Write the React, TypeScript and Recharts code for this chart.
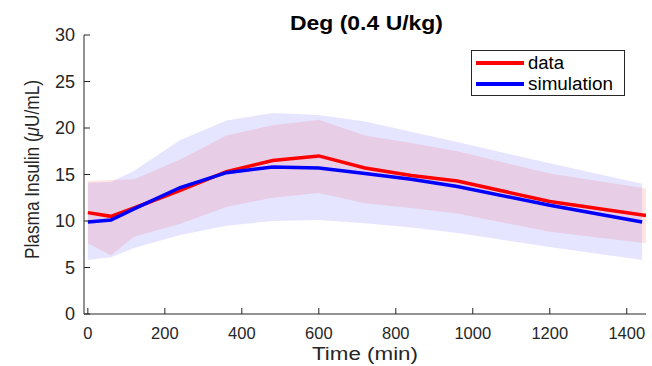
import React from 'react';
import { ComposedChart, Line, Area, XAxis, YAxis, Legend } from 'recharts';

// Time points (min)
const simTime = [0, 60, 120, 240, 360, 480, 600, 720, 840, 960, 1200, 1440];
const dataTime = [0, 60, 120, 240, 360, 480, 600, 720, 840, 960, 1200, 1450];

// Measured data (red)
const dataMean = [10.9, 10.5, 11.4, 13.3, 15.3, 16.5, 17.0, 15.7, 14.9, 14.3, 12.1, 10.6];
const dataUpper = [14.3, 14.4, 14.5, 16.6, 19.2, 20.3, 20.9, 19.2, 18.4, 17.5, 15.1, 13.5];
const dataLower = [7.6, 6.3, 8.3, 9.7, 11.5, 12.5, 13.0, 11.9, 11.4, 10.8, 8.85, 7.6];

// Simulation (blue)
const simMean = [9.9, 10.1, 11.3, 13.6, 15.2, 15.8, 15.7, 15.1, 14.5, 13.7, 11.7, 9.9];
const simUpper = [14.1, 14.2, 15.4, 18.7, 20.8, 21.6, 21.4, 20.7, 19.6, 18.5, 16.2, 14.0];
const simLower = [5.8, 6.1, 7.1, 8.5, 9.5, 10.0, 10.1, 9.75, 9.3, 8.7, 7.2, 5.8];

const xTicks = [0, 200, 400, 600, 800, 1000, 1200, 1400];
const yTicks = [0, 5, 10, 15, 20, 25, 30];

const legendItems = [
  { color: '#ff0000', label: 'data' },
  { color: '#0000ff', label: 'simulation' },
];

type Row = { t: number; dm?: number; dr?: [number, number]; sm?: number; sr?: [number, number] };

const rowMap = new Map<number, Row>();
simTime.forEach((t, i) => {
  const r = rowMap.get(t) || { t };
  r.sm = simMean[i];
  r.sr = [simLower[i], simUpper[i]];
  rowMap.set(t, r);
});
dataTime.forEach((t, i) => {
  const r = rowMap.get(t) || { t };
  r.dm = dataMean[i];
  r.dr = [dataLower[i], dataUpper[i]];
  rowMap.set(t, r);
});
const rows: Row[] = Array.from(rowMap.values()).sort((a, b) => a.t - b.t);

const FONT = '"Liberation Sans", Arial, Helvetica, sans-serif';
const AX = '#262626';

const LegendBox = () => (
  <svg width={154} height={46} style={{ display: 'block' }}>
    <rect x={0.5} y={0.5} width={153} height={45} fill="#fff" stroke={AX} strokeWidth={1} />
    {legendItems.map((e, i) => (
      <g key={e.label}>
        <line x1={5} x2={53} y1={13 + i * 21} y2={13 + i * 21} stroke={e.color} strokeWidth={4} />
        <text
          x={57}
          y={19 + i * 21}
          fontFamily={FONT}
          fontSize={18}
          fill="#000"
          textLength={e.label === 'data' ? 36 : 85}
          lengthAdjust="spacingAndGlyphs"
        >
          {e.label}
        </text>
      </g>
    ))}
  </svg>
);

export default function App() {
  return (
    <div style={{ position: 'absolute', left: 0, top: 0, width: 652, height: 366, background: '#fff' }}>
      <ComposedChart
        width={652}
        height={366}
        data={rows}
        margin={{ top: 35, right: 6, left: 0, bottom: 0 }}
        style={{ fontFamily: FONT }}
      >
        <XAxis
          dataKey="t"
          type="number"
          domain={[-10, 1450]}
          ticks={xTicks}
          height={52}
          axisLine={{ stroke: AX }}
          tickLine={{ stroke: AX }}
          tickSize={-6}
          tickMargin={19}
          tick={{ fill: AX, fontSize: 16.5, fontFamily: FONT }}
          allowDataOverflow
        />
        <YAxis
          type="number"
          domain={[0, 30]}
          ticks={yTicks}
          width={84}
          axisLine={{ stroke: AX }}
          tickLine={{ stroke: AX }}
          tickSize={-6}
          tickMargin={15}
          tick={{ fill: AX, fontSize: 18, fontFamily: FONT }}
        />
        <Legend
          layout="horizontal"
          verticalAlign="middle"
          align="center"
          content={() => <LegendBox />}
          wrapperStyle={{ position: 'absolute', left: 471, top: 50, width: 154, height: 46 }}
        />
        <Area
          dataKey="sr"
          stroke="none"
          fill="#0000ff"
          fillOpacity={0.1}
          connectNulls
          isAnimationActive={false}
          legendType="none"
          activeDot={false}
        />
        <Area
          dataKey="dr"
          stroke="none"
          fill="#ff0000"
          fillOpacity={0.1}
          connectNulls
          isAnimationActive={false}
          legendType="none"
          activeDot={false}
        />
        <Line
          dataKey="dm"
          stroke="#ff0000"
          strokeWidth={3.5}
          dot={false}
          connectNulls
          isAnimationActive={false}
          strokeLinejoin="miter"
        />
        <Line
          dataKey="sm"
          stroke="#0000ff"
          strokeWidth={3.5}
          dot={false}
          connectNulls
          isAnimationActive={false}
          strokeLinejoin="miter"
        />
      </ComposedChart>
      <svg
        width={652}
        height={366}
        style={{ position: 'absolute', left: 0, top: 0, pointerEvents: 'none' }}
      >
        <text
          x={366.5}
          y={30}
          textAnchor="middle"
          fontFamily={FONT}
          fontWeight="bold"
          fontSize={19.5}
          fill="#000"
          textLength={153}
          lengthAdjust="spacingAndGlyphs"
        >
          Deg (0.4 U/kg)
        </text>
        <text
          x={365}
          y={359.5}
          textAnchor="middle"
          fontFamily={FONT}
          fontSize={18}
          fill={AX}
          textLength={106}
          lengthAdjust="spacingAndGlyphs"
        >
          Time (min)
        </text>
        <g transform="translate(38.5, 169.5) scale(1.15, 1) rotate(-90)">
          <text
            x={0}
            y={0}
            textAnchor="middle"
            fontFamily={FONT}
            fontSize={17.5}
            fill={AX}
            textLength={179}
            lengthAdjust="spacingAndGlyphs"
          >
            Plasma Insulin (<tspan fontStyle="italic">μ</tspan>U/mL)
          </text>
        </g>
      </svg>
    </div>
  );
}
